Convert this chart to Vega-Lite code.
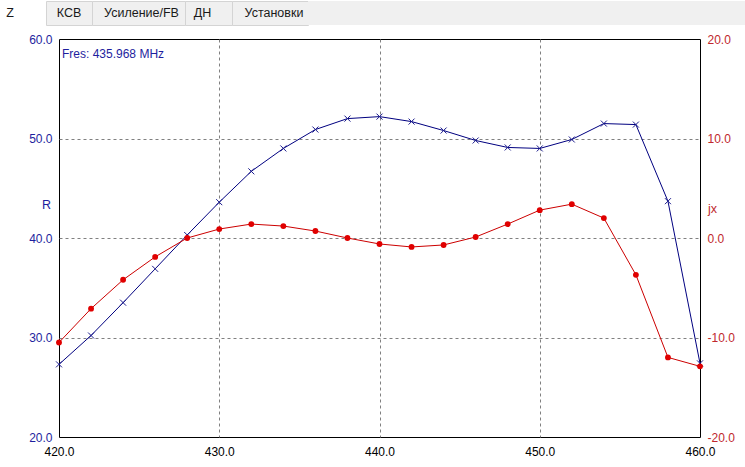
{
  "$schema": "https://vega.github.io/schema/vega-lite/v6.json",
  "padding": 0,
  "background": "#ffffff",
  "config": {
    "font": "Liberation Sans",
    "view": {"stroke": null},
    "axis": {"labelFont": "Liberation Sans", "titleFont": "Liberation Sans"},
    "text": {"font": "Liberation Sans"}
  },
  "spacing": 6,
  "bounds": "full",
  "vconcat": [
    {
      "spacing": 0,
      "bounds": "flush",
      "hconcat": [
        {
          "width": 46, "height": 24,
          "view": {"fill": "#ffffff", "stroke": null},
          "data": {"values": [{"tab": "Z"}]},
          "mark": {"type": "text", "align": "center", "dx": -13, "fontSize": 12.5, "color": "#1a1a1a"},
          "encoding": {"text": {"field": "tab"}}
        },
        {
          "width": 46, "height": 24,
          "view": {"fill": "#f0f0f0", "stroke": "#d4d4d4"},
          "data": {"values": [{"tab": "КСВ"}]},
          "mark": {"type": "text", "align": "center", "fontSize": 12.5, "color": "#1a1a1a"},
          "encoding": {"text": {"field": "tab"}}
        },
        {
          "width": 93, "height": 24,
          "view": {"fill": "#f0f0f0", "stroke": "#d4d4d4"},
          "data": {"values": [{"tab": "Усиление/FB"}]},
          "mark": {"type": "text", "align": "center", "dx": 3, "fontSize": 12.5, "color": "#1a1a1a"},
          "encoding": {"text": {"field": "tab"}}
        },
        {
          "width": 47, "height": 24,
          "view": {"fill": "#f0f0f0", "stroke": "#d4d4d4"},
          "data": {"values": [{"tab": "ДН"}]},
          "mark": {"type": "text", "align": "center", "dx": -6, "fontSize": 12.5, "color": "#1a1a1a"},
          "encoding": {"text": {"field": "tab"}}
        },
        {
          "width": 76, "height": 24,
          "view": {"fill": "#f0f0f0", "stroke": "#d4d4d4"},
          "data": {"values": [{"tab": "Установки"}]},
          "mark": {"type": "text", "align": "center", "dx": 4, "fontSize": 12.5, "color": "#1a1a1a"},
          "encoding": {"text": {"field": "tab"}}
        },
        {
          "width": 437, "height": 24,
          "view": {"fill": "#f0f0f0", "stroke": null},
          "data": {"values": []},
          "mark": "point"
        }
      ]
    },
    {
      "spacing": 0,
      "bounds": "flush",
      "hconcat": [
        {
          "width": 59,
          "height": 398,
          "data": {"values": []},
          "mark": "point"
        },
        {
          "width": 641,
          "height": 398,
          "view": {"stroke": "#000000", "strokeWidth": 1},
          "data": {"values": [
            {"f": 420, "R": 27.3, "X": -10.5},
            {"f": 422, "R": 30.2, "X": -7.1},
            {"f": 424, "R": 33.5, "X": -4.2},
            {"f": 426, "R": 36.9, "X": -1.9},
            {"f": 428, "R": 40.3, "X": 0.0},
            {"f": 430, "R": 43.6, "X": 0.9},
            {"f": 432, "R": 46.7, "X": 1.4},
            {"f": 434, "R": 49.0, "X": 1.2},
            {"f": 436, "R": 50.9, "X": 0.7},
            {"f": 438, "R": 52.0, "X": 0.0},
            {"f": 440, "R": 52.2, "X": -0.6},
            {"f": 442, "R": 51.7, "X": -0.9},
            {"f": 444, "R": 50.8, "X": -0.7},
            {"f": 446, "R": 49.8, "X": 0.1},
            {"f": 448, "R": 49.1, "X": 1.4},
            {"f": 450, "R": 49.0, "X": 2.8},
            {"f": 452, "R": 49.9, "X": 3.4},
            {"f": 454, "R": 51.5, "X": 2.0},
            {"f": 456, "R": 51.4, "X": -3.7},
            {"f": 458, "R": 43.7, "X": -12.0},
            {"f": 460, "R": 27.4, "X": -12.9}
          ]},
          "layer": [
            {
              "encoding": {
                "x": {
                  "field": "f", "type": "quantitative",
                  "scale": {"domain": [420, 460], "nice": false, "zero": false},
                  "axis": {
                    "values": [420, 430, 440, 450, 460], "format": ".1f", "title": null,
                    "ticks": false, "domain": false, "labelFlush": false, "labelOverlap": false,
                    "labelColor": "#000000", "labelFontSize": 12, "labelPadding": 9,
                    "grid": true, "gridColor": "#808080", "gridDash": [3, 3],
                    "gridOpacity": {"condition": {"test": "datum.value == 420 || datum.value == 460", "value": 0}, "value": 1}
                  }
                },
                "y": {
                  "field": "R", "type": "quantitative",
                  "scale": {"domain": [20, 60], "nice": false, "zero": false},
                  "axis": {
                    "orient": "left", "values": [20, 30, 40, 50, 60], "format": ".1f",
                    "title": "R", "titleAngle": 0, "titleX": -13, "titleY": 169,
                    "titleAlign": "center", "titleBaseline": "alphabetic",
                    "titleColor": "#1e1e9e", "titleFontSize": 12.5, "titleFontWeight": "normal",
                    "labelColor": "#1e1e9e", "labelFontSize": 12, "labelPadding": 7,
                    "labelOverlap": false, "ticks": false, "domain": false,
                    "grid": true, "gridColor": "#808080", "gridDash": [3, 3],
                    "gridOpacity": {"condition": {"test": "datum.value == 20 || datum.value == 60", "value": 0}, "value": 1}
                  }
                }
              },
              "layer": [
                {
                  "mark": {"type": "line", "color": "#000080", "strokeWidth": 1},
                  "encoding": {}
                },
                {
                  "mark": {"type": "point", "shape": "M-1,-1L1,1M-1,1L1,-1", "filled": false,
                           "color": "#1a1a8c", "size": 36, "strokeWidth": 1, "opacity": 1},
                  "encoding": {}
                }
              ]
            },
            {
              "encoding": {
                "x": {
                  "field": "f", "type": "quantitative",
                  "scale": {"domain": [420, 460], "nice": false, "zero": false},
                  "axis": {
                    "values": [420, 430, 440, 450, 460], "format": ".1f", "title": null,
                    "ticks": false, "domain": false, "labelFlush": false, "labelOverlap": false,
                    "labelColor": "#000000", "labelFontSize": 12, "labelPadding": 9,
                    "grid": true, "gridColor": "#808080", "gridDash": [3, 3],
                    "gridOpacity": {"condition": {"test": "datum.value == 420 || datum.value == 460", "value": 0}, "value": 1}
                  }
                },
                "y": {
                  "field": "X", "type": "quantitative",
                  "scale": {"domain": [-20, 20], "nice": false, "zero": false},
                  "axis": {
                    "orient": "right", "values": [-20, -10, 0, 10, 20], "format": ".1f",
                    "labelExpr": "replace(datum.label, '\u2212', '-')",
                    "title": "jx", "titleAngle": 0, "titleX": 12, "titleY": 173,
                    "titleAlign": "center", "titleBaseline": "alphabetic",
                    "titleColor": "#c0282d", "titleFontSize": 12.5, "titleFontWeight": "normal",
                    "labelColor": "#c0282d", "labelFontSize": 12, "labelPadding": 7,
                    "labelOverlap": false, "ticks": false, "domain": false, "grid": false
                  }
                }
              },
              "layer": [
                {
                  "mark": {"type": "line", "color": "#cc0000", "strokeWidth": 1},
                  "encoding": {}
                },
                {
                  "mark": {"type": "point", "shape": "circle", "filled": true, "color": "#e00000",
                           "size": 34, "opacity": 1},
                  "encoding": {}
                }
              ]
            },
            {
              "data": {"values": [{"label": "Fres: 435.968 MHz"}]},
              "mark": {"type": "text", "align": "left", "baseline": "alphabetic", "dx": 3, "dy": 19,
                       "fontSize": 12, "color": "#1e1e9e", "font": "Liberation Sans"},
              "encoding": {
                "x": {
                  "datum": 420, "type": "quantitative",
                  "scale": {"domain": [420, 460], "nice": false, "zero": false},
                  "axis": {
                    "values": [420, 430, 440, 450, 460], "format": ".1f", "title": null,
                    "ticks": false, "domain": false, "labelFlush": false, "labelOverlap": false,
                    "labelColor": "#000000", "labelFontSize": 12, "labelPadding": 9,
                    "grid": true, "gridColor": "#808080", "gridDash": [3, 3],
                    "gridOpacity": {"condition": {"test": "datum.value == 420 || datum.value == 460", "value": 0}, "value": 1}
                  }
                },
                "y": {"datum": 60, "type": "quantitative", "axis": null,
                      "scale": {"domain": [20, 60], "nice": false, "zero": false}},
                "text": {"field": "label", "type": "nominal"}
              }
            }
          ],
          "resolve": {"scale": {"y": "independent"}}
        }
      ]
    }
  ]
}
